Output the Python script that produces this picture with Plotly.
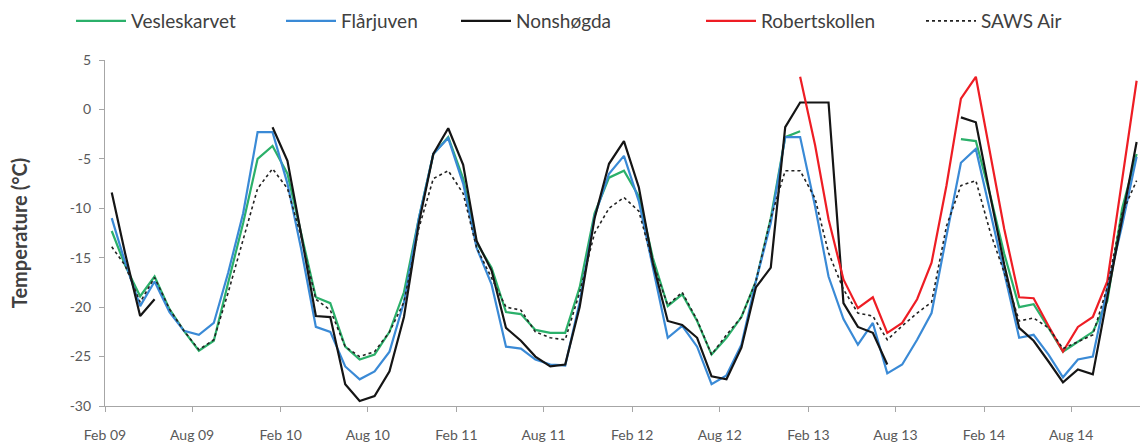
import pandas as pd
import plotly.graph_objects as go

N = None
months = pd.date_range("2009-02-01", periods=71, freq="MS") + pd.Timedelta(days=14)

vesleskarvet = [-12.3, -15.8, -18.9, -16.9, -20.2, -22.4, -24.4, -23.4, -17.5, -11.5, -5.0, -3.7,
                -6.5, -12.5, -19.0, -19.6, -24.0, -25.3, -24.8, -22.5, -18.5, -11.0, -4.5, -2.8,
                -7.0, -13.5, -16.0, -20.5, -20.7, -22.3, -22.6, -22.6, -18.0, -10.5, -6.9, -6.2,
                -8.8, -15.0, -19.9, -18.7, -21.4, -24.8, -23.1, -21.0, -17.4, -11.0, -2.8, -2.2,
                N, N, N, N, N, N, N, N, N, N, -3.0, -3.2,
                -8.9, -14.6, -20.0, -19.7, -22.1, -24.5, -23.5, -22.5, -19.4, -10.0, -4.5]

flarjuven = [-11.0, -15.5, -19.9, -17.4, -20.5, -22.4, -22.8, -21.6, -16.5, -10.5, -2.3, -2.3,
             -7.5, -14.0, -22.0, -22.5, -26.0, -27.3, -26.5, -24.5, -19.5, -11.0, -4.5, -2.9,
             -7.5, -14.0, -17.7, -24.0, -24.2, -25.3, -25.8, -25.9, -19.5, -10.8, -6.5, -4.7,
             -9.3, -16.0, -23.1, -21.9, -24.0, -27.8, -26.9, -23.8, -17.4, -11.5, -2.8, -2.8,
             -9.8, -16.9, -21.2, -23.8, -21.6, -26.7, -25.8, -23.3, -20.6, -12.8, -5.4, -4.0,
             -10.6, -16.3, -23.1, -22.8, -24.8, -27.1, -25.3, -25.0, -18.1, -11.7, -4.8]

nonshogda = [-8.4, -14.6, -20.9, -19.2, N, N, N, N, N, N, N, -1.8,
             -5.2, -12.5, -20.9, -21.0, -27.8, -29.5, -29.0, -26.5, -21.0, -11.5, -4.5, -1.9,
             -5.6, -13.3, -16.3, -22.1, -23.4, -25.0, -26.0, -25.8, -20.0, -11.0, -5.5, -3.2,
             -7.9, -15.5, -21.4, -21.8, -23.1, -27.0, -27.3, -24.1, -18.0, -16.0, -1.8, 0.7,
             0.7, 0.7, -19.6, -22.0, -22.6, -25.8, N, N, N, N, -0.8, -1.3,
             -9.0, -15.7, -22.1, -23.4, -25.5, -27.6, -26.3, -26.8, -19.0, -11.0, -3.3]

robertskollen = [N] * 47 + [3.3,
                 -3.6, -11.1, -17.2, -20.1, -19.0, -22.6, -21.6, -19.2, -15.5, -7.7, 1.1, 3.3,
                 -4.8, -12.1, -19.0, -19.1, -21.9, -24.5, -22.0, -21.0, -17.4, -7.0, 2.9]

saws_air = [-13.9, -15.8, -19.5, -17.0, -20.2, -22.4, -24.3, -23.3, -18.5, -13.3, -8.0, -6.0,
            -8.0, -12.8, -19.2, -20.3, -24.0, -25.0, -24.5, -22.5, -19.5, -12.0, -7.0, -6.2,
            -8.5, -14.0, -17.0, -20.0, -20.3, -22.5, -23.1, -23.3, -18.5, -12.5, -10.0, -8.9,
            -10.3, -15.5, -19.8, -18.5, -21.3, -24.8, -22.8, -21.0, -17.4, -11.0, -6.2, -6.2,
            -9.0, -14.5, -18.2, -20.6, -20.9, -23.3, -21.9, -20.6, -19.5, -11.8, -7.7, -7.2,
            -12.6, -16.5, -21.4, -21.1, -22.1, -24.2, -23.5, -22.8, -18.0, -10.5, -7.2]

tick_dates = ["2009-02-01", "2009-08-01", "2010-02-01", "2010-08-01", "2011-02-01", "2011-08-01",
              "2012-02-01", "2012-08-01", "2013-02-01", "2013-08-01", "2014-02-01", "2014-08-01"]
tick_labels = ["Feb 09", "Aug 09", "Feb 10", "Aug 10", "Feb 11", "Aug 11",
               "Feb 12", "Aug 12", "Feb 13", "Aug 13", "Feb 14", "Aug 14"]

series = [
    ("Vesleskarvet", vesleskarvet, "#2bb06a", "solid", 2.2, "legend"),
    ("Flårjuven", flarjuven, "#3a8ad6", "solid", 2.2, "legend2"),
    ("Nonshøgda", nonshogda, "#151515", "solid", 2.2, "legend3"),
    ("Robertskollen", robertskollen, "#ee1d24", "solid", 2.2, "legend4"),
    ("SAWS Air", saws_air, "#222222", "dot", 1.6, "legend5"),
]

fig = go.Figure()
for name, vals, color, dash, w, lg in series:
    fig.add_trace(go.Scatter(x=months, y=vals, name=name, mode="lines",
                             line=dict(color=color, width=w, dash=dash),
                             connectgaps=False, legend=lg))

W, H = 1140, 443
L, R, T, B = 105, 0, 60, 37
pw, ph = W - L - R, H - T - B


def lx(px):
    return (px - L) / pw


ly = (H - B - 21) / ph
legfont = dict(family="Lato, 'Open Sans', sans-serif", size=19, color="#404040")
text_starts = [130, 340, 515, 760, 980]
legends = {}
for i, ts in enumerate(text_starts):
    key = "legend" if i == 0 else f"legend{i + 1}"
    legends[key] = dict(x=lx(ts - 59), y=ly, xanchor="left", yanchor="middle",
                        orientation="h", font=legfont, bgcolor="rgba(0,0,0,0)",
                        borderwidth=0, itemwidth=50)

fig.update_layout(
    width=W, height=H,
    margin=dict(l=L, r=R, t=T, b=B),
    paper_bgcolor="white", plot_bgcolor="white",
    showlegend=True,
    font=dict(family="Lato, 'Open Sans', sans-serif", color="#595959"),
    xaxis=dict(type="date", range=["2009-02-01", "2014-12-22"],
               tickmode="array", tickvals=tick_dates, ticktext=tick_labels,
               showgrid=False, zeroline=False, showline=True, linecolor="#a6a6a6", linewidth=1.2,
               ticks="outside", ticklen=5, tickcolor="#a6a6a6",
               tickfont=dict(size=14, color="#595959"), ticklabelstandoff=11),
    yaxis=dict(range=[-30, 5], tickmode="array", tickvals=[-30, -25, -20, -15, -10, -5, 0, 5],
               ticktext=["-30", "-25", "-20", "-15", "-10", "-5", "0", "5"],
               showgrid=False, zeroline=False, showline=True, linecolor="#a6a6a6", linewidth=1.2,
               ticks="outside", ticklen=5, tickcolor="#a6a6a6",
               tickfont=dict(size=14, color="#595959"), ticklabelstandoff=5,
               title=dict(text="<b>Temperature (°C)</b>", font=dict(size=20, color="#404040"), standoff=36)),
    **legends,
)

fig.write_html("out.html")
